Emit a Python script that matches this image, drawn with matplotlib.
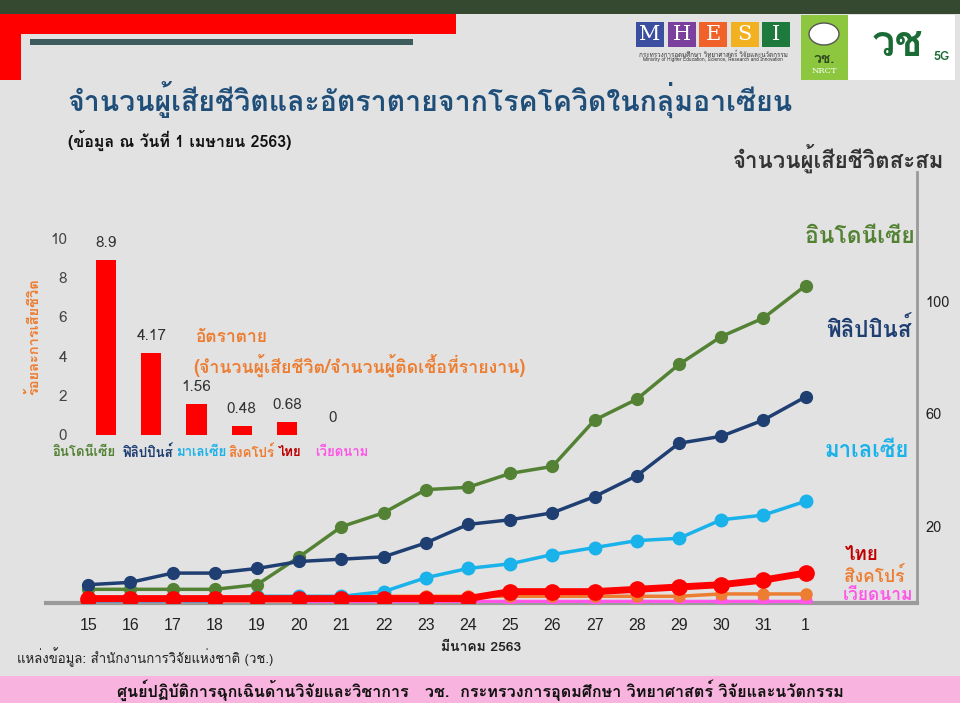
import matplotlib
matplotlib.use("Agg")
import matplotlib.pyplot as plt
from matplotlib import font_manager
from matplotlib.ft2font import FT2Font
from matplotlib.patches import Rectangle

# ---- data ----
days = ["15", "16", "17", "18", "19", "20", "21", "22", "23", "24",
        "25", "26", "27", "28", "29", "30", "31", "1"]
indonesia = [5, 5, 5, 5, 7, 19, 32, 38, 48, 49, 55, 58, 78, 87, 102, 114, 122, 136]
philippines = [7, 8, 12, 12, 14, 17, 18, 19, 25, 33, 35, 38, 45, 54, 68, 71, 78, 88]
malaysia = [0, 0, 0, 0, 2, 2, 2, 4, 10, 14, 16, 20, 23, 26, 27, 35, 37, 43]
singapore = [0, 0, 0, 0, 0, 0, 2, 2, 2, 2, 2, 2, 2, 2, 2, 3, 3, 3]
vietnam = [0] * 18
thailand = [1, 1, 1, 1, 1, 1, 1, 1, 1, 1, 4, 4, 4, 5, 6, 7, 9, 12]

countries = ["อินโดนีเซีย", "ฟิลิปปินส์", "มาเลเซีย", "สิงคโปร์", "ไทย", "เวียดนาม"]
death_rate = [8.9, 4.17, 1.56, 0.48, 0.68, 0]
rate_labels = ["8.9", "4.17", "1.56", "0.48", "0.68", "0"]

# right axis labels as printed (their positions in the original do not follow the data scale)
right_tick_pos = [32, 81, 129]
right_tick_labels = ["20", "60", "100"]

c_indo = "#548235"
c_phil = "#1f3f73"
c_malay = "#1ab2ea"
c_sing = "#ed7d31"
c_thai = "#ff0000"
c_viet = "#ff55e8"
c_orange = "#ed7d31"


def find_thai_font():
    for f in font_manager.fontManager.ttflist:
        try:
            if FT2Font(f.fname).get_char_index(0x0E01):
                return f.name
        except Exception:
            pass
    return "DejaVu Sans"


thai = find_thai_font()
plt.rcParams["font.family"] = [thai, "DejaVu Sans"]
names = {f.name for f in font_manager.fontManager.ttflist}
narrow = "Liberation Sans Narrow" if "Liberation Sans Narrow" in names else "Liberation Sans"

W, H = 960, 703
fig = plt.figure(figsize=(9.6, 7.03), dpi=100, facecolor="#e2e2e2")


def px(x, y):
    return x / W, 1 - y / H


def box(x0, y0, x1, y1, color, **kw):
    fig.patches.append(Rectangle(px(x0, y1), (x1 - x0) / W, (y1 - y0) / H,
                                 transform=fig.transFigure, color=color, lw=0, **kw))


# header decorations
box(0, 0, 960, 14, "#34492f")
box(0, 14, 456, 34, "#ff0000")
box(0, 14, 21, 80, "#ff0000")
box(30, 39, 413, 45, "#3d5a5c")

# logos (simplified)
for i, (ch, col) in enumerate(zip("MHESI", ["#3b4ea0", "#7b3f9e", "#f0622a", "#f2b121", "#1e7a3c"])):
    x0 = 636 + i * 31.5
    box(x0, 22, x0 + 28, 47, col)
    fig.text(*px(x0 + 14, 35), ch, color="white", fontsize=15, family="DejaVu Serif",
             ha="center", va="center")
fig.text(*px(713, 54), "กระทรวงการอุดมศึกษา วิทยาศาสตร์ วิจัยและนวัตกรรม", fontsize=4.5,
         ha="center", va="center", color="#333333")
fig.text(*px(713, 60), "Ministry of Higher Education, Science, Research and Innovation", fontsize=3.5,
         ha="center", va="center", color="#333333")
box(801, 15, 848, 80, "#8dc63f")
box(848, 15, 955, 80, "#ffffff")
circ = plt.Circle(px(824, 34), 15 / W, transform=fig.transFigure, fc="white", ec="#555555", lw=1)
fig.patches.append(circ)
fig.text(*px(824, 60), "วช.", fontsize=10, weight="bold", ha="center", va="center", color="#2d4a1f")
fig.text(*px(824, 71), "NRCT", fontsize=6, ha="center", va="center", color="white", family="DejaVu Serif")
fig.text(*px(897, 45), "วช", fontsize=30, weight="bold", ha="center", va="center", color="#1b6b35")
fig.text(*px(942, 57), "5G", fontsize=9, weight="bold", ha="center", va="center", color="#1b6b35")

# titles
fig.text(*px(68, 100), "จำนวนผู้เสียชีวิตและอัตราตายจากโรคโควิดในกลุ่มอาเซียน",
         fontsize=20.5, weight="bold", color="#1f4e79", ha="left", va="center")
fig.text(*px(68, 140), "(ข้อมูล ณ วันที่ 1 เมษายน 2563)",
         fontsize=11.5, weight="bold", color="#111111", ha="left", va="center")

# ---- main line chart ----
ax = fig.add_axes([46 / W, 1 - 603 / H, (917 - 46) / W, (603 - 172) / H])
ax.set_facecolor("none")
x = list(range(len(days)))
series = [
    (vietnam, c_viet, 2.5, 8),
    (singapore, c_sing, 2.5, 8),
    (malaysia, c_malay, 2.5, 9),
    (indonesia, c_indo, 2.5, 8.5),
    (philippines, c_phil, 2.5, 8.5),
    (thailand, c_thai, 5, 11),
]
for vals, col, lw, ms in series:
    ax.plot(x, vals, color=col, lw=lw, marker="o", ms=ms, zorder=3)

ax.set_xlim(-1.0, 19.64)
ax.set_ylim(-0.9, 185)
for s in ["left", "top"]:
    ax.spines[s].set_visible(False)
ax.spines["bottom"].set_color("#9a9a9a")
ax.spines["bottom"].set_linewidth(3)
ax.spines["right"].set_color("#9a9a9a")
ax.spines["right"].set_linewidth(2)
ax.yaxis.tick_right()
ax.set_yticks(right_tick_pos)
ax.set_yticklabels(right_tick_labels)
ax.tick_params(axis="y", length=0, pad=6, labelsize=10.5, labelcolor="#222222")
ax.set_xticks(x)
ax.set_xticklabels(days, family=narrow)
ax.tick_params(axis="x", length=0, pad=11, labelsize=11.5, labelcolor="#222222")
ax.set_xlabel("มีนาคม 2563", fontsize=10, weight="bold", color="#222222", labelpad=6)

# series labels on the right
for name, col, xx, yy, fs in [("อินโดนีเซีย", c_indo, 915, 237, 16.5),
                              ("ฟิลิปปินส์", c_phil, 912, 329, 16),
                              ("มาเลเซีย", c_malay, 909, 451, 16),
                              ("ไทย", "#c00000", 879, 555, 13.5),
                              ("สิงคโปร์", c_sing, 905, 576, 12.5),
                              ("เวียดนาม", c_viet, 913, 596, 12.5)]:
    fig.text(*px(xx, yy), name, color=col, fontsize=fs, weight="bold", ha="right", va="center")
fig.text(*px(944, 158), "จำนวนผู้เสียชีวิตสะสม", fontsize=16, weight="bold",
         color="#333333", ha="right", va="center")

# ---- inset bar chart ----
bx = fig.add_axes([78 / W, 1 - 435 / H, (372 - 78) / W, (435 - 238) / H])
bx.set_facecolor("none")
bpos = list(range(len(countries)))
bars = bx.bar(bpos, death_rate, width=0.45, color="#ff0000")
for b, lab in zip(bars, rate_labels):
    bx.text(b.get_x() + b.get_width() / 2, b.get_height() + 0.5, lab, ha="center", va="bottom",
            fontsize=11, color="#333333")
bx.set_xlim(-0.62, 5.88)
bx.set_ylim(0, 10)
for s in bx.spines.values():
    s.set_visible(False)
bx.set_yticks([0, 2, 4, 6, 8, 10])
bx.tick_params(axis="y", length=0, pad=8, labelsize=11, labelcolor="#444444")
bx.set_xticks([])
# country names sit slightly off the bar centres in the original so they do not collide
label_shift = [-0.49, -0.07, 0.11, 0.22, 0.07, 0.22]
for p, name, col, dx in zip(bpos, countries, [c_indo, c_phil, c_malay, c_sing, "#c00000", c_viet],
                            label_shift):
    bx.text(p + dx, -0.9, name, color=col, fontsize=9.5, weight="bold", ha="center", va="center")
bx.set_ylabel("ร้อยละการเสียชีวิต", color=c_orange, fontsize=10.5, weight="bold", labelpad=6)
fig.text(*px(195, 338), "อัตราตาย", color=c_orange, fontsize=12.5, weight="bold", va="center")
fig.text(*px(193, 365), "(จำนวนผู้เสียชีวิต/จำนวนผู้ติดเชื้อที่รายงาน)", color=c_orange,
         fontsize=12.8, weight="bold", va="center")

# footer
fig.text(*px(17, 657), "แหล่งข้อมูล: สำนักงานการวิจัยแห่งชาติ (วช.)", fontsize=9.5,
         color="#222222", va="center")
box(0, 676, 960, 703, "#f8b4de")
fig.text(*px(480, 690), "ศูนย์ปฏิบัติการฉุกเฉินด้านวิจัยและวิชาการ   วช.  กระทรวงการอุดมศึกษา วิทยาศาสตร์ วิจัยและนวัตกรรม",
         fontsize=11.6, weight="bold", color="#111111", ha="center", va="center")

fig.savefig("out.png", dpi=100, facecolor=fig.get_facecolor())
